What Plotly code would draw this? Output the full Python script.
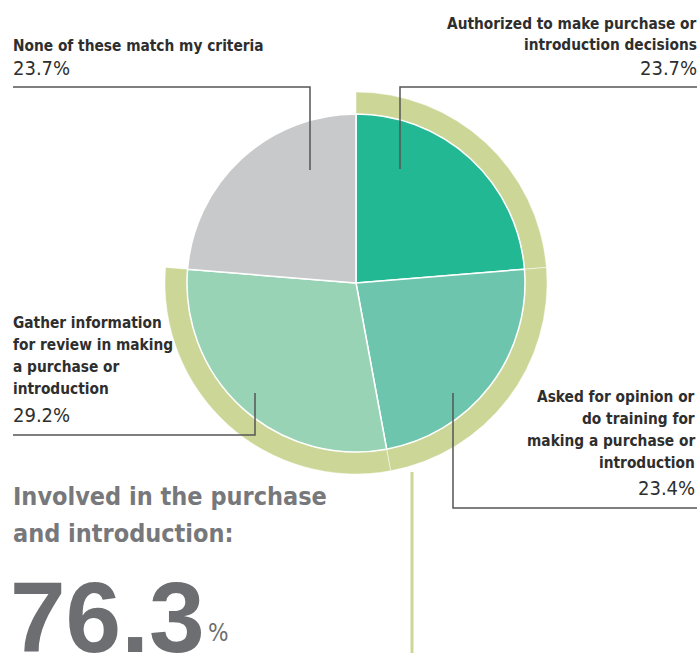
import plotly.graph_objects as go

# ---------------------------
# 1. Data
# ---------------------------
categories = [
    "Authorized to make purchase or introduction decisions",
    "Asked for opinion or do training for making a purchase or introduction",
    "Gather information for review in making a purchase or introduction",
    "None of these match my criteria",
]
label_lines = [
    ["Authorized to make purchase or", "introduction decisions"],
    ["Asked for opinion or", "do training for", "making a purchase or", "introduction"],
    ["Gather information", "for review in making", "a purchase or", "introduction"],
    ["None of these match my criteria"],
]
shares = [23.7, 23.4, 29.2, 23.7]
involved = [True, True, True, False]
headline = ["Involved in the purchase", "and introduction:"]

# ---------------------------
# 2. Style / geometry (pixels)
# ---------------------------
W, H = 700, 653
CX, CY = 356, 283
R_PIE, R_RING = 169, 191
slice_colors = ["#22b893", "#6cc5ac", "#98d3b6", "#c8c9cb"]
RING = "#ccd797"
INK = "#2e2e2e"
GREY = "#6d6e71"
FONT = "DejaVu Sans Condensed, DejaVu Sans, sans-serif"
BIG_FONT = "Liberation Sans, Arial, sans-serif"


def px(x, y):
    """Pixel position (top-left origin) -> paper coords."""
    return x / W, 1 - y / H


def domain(r):
    x0, y0 = px(CX - r, CY + r)
    x1, y1 = px(CX + r, CY - r)
    return dict(x=[x0, x1], y=[y0, y1])


total_involved = round(sum(s for s, i in zip(shares, involved) if i), 1)

fig = go.Figure()

# outer ring: only the "involved" slices are drawn
fig.add_trace(go.Pie(
    values=shares, labels=categories, hole=R_PIE / R_RING,
    domain=domain(R_RING), sort=False, direction="clockwise", rotation=0,
    marker=dict(colors=[RING if i else "rgba(0,0,0,0)" for i in involved],
                line=dict(color=["rgba(255,255,255,0.45)" if i else "rgba(0,0,0,0)" for i in involved], width=1)),
    textinfo="none", hoverinfo="skip", showlegend=False,
))

# main pie
fig.add_trace(go.Pie(
    values=shares, labels=categories,
    domain=domain(R_PIE), sort=False, direction="clockwise", rotation=0,
    marker=dict(colors=slice_colors, line=dict(color="white", width=1.5)),
    textinfo="none", hovertemplate="%{label}: %{value}%<extra></extra>",
    showlegend=False,
))

# ---------------------------
# 3. Leader lines
# ---------------------------
leaders = [
    [(697, 87), (400, 87), (400, 169)],
    [(697, 508), (453, 508), (453, 393)],
    [(13, 435), (255, 435), (255, 393)],
    [(13, 87), (310, 87), (310, 170)],
]
shapes = []
for pts in leaders:
    path = "M " + " L ".join("{:.5f},{:.5f}".format(*px(x, y)) for x, y in pts)
    shapes.append(dict(type="path", xref="paper", yref="paper", path=path,
                       line=dict(color="#555555", width=1.5)))
x0, y0 = px(412, CY + R_RING - 2)
x1, y1 = px(412, H)
shapes.append(dict(type="line", xref="paper", yref="paper", x0=x0, y0=y0, x1=x1, y1=y1,
                   line=dict(color=RING, width=3)))


# ---------------------------
# 4. Text
# ---------------------------
def text(s, x, baseline, size, anchor="left", color=INK, bold=False, family=FONT):
    xx, yy = px(x, baseline + 0.23 * size)
    if bold:
        s = "<b>" + s + "</b>"
    return dict(text=s, x=xx, y=yy, xref="paper", yref="paper", xanchor=anchor,
                yanchor="bottom", align=anchor, showarrow=False, borderpad=0, borderwidth=0,
                font=dict(family=family, size=size, color=color))


# (x, first baseline, line step, anchor, percent baseline) per category
label_pos = [
    (697, 29, 21, "right", 75),
    (695, 402, 22, "right", 495),
    (13, 328, 22, "left", 422),
    (13, 51, 22, "left", 75),
]

annotations = []
for lines, share, (x, b0, step, anchor, pb) in zip(label_lines, shares, label_pos):
    for k, line in enumerate(lines):
        annotations.append(text(line, x, b0 + k * step, 15.3, anchor=anchor, bold=True))
    annotations.append(text(f"{share}%", x, pb, 20, anchor=anchor))

for k, line in enumerate(headline):
    annotations.append(text(line, 13, 505 + k * 37, 25, color="#77787b", bold=True))
annotations.append(text(f"{total_involved}", 10, 650, 100, color=GREY, bold=True, family=BIG_FONT))
annotations.append(text("%", 208, 641, 24, color=GREY))

fig.update_layout(
    width=W, height=H, margin=dict(l=0, r=0, t=0, b=0),
    paper_bgcolor="white", plot_bgcolor="white",
    shapes=shapes, annotations=annotations,
)

fig.write_html("out.html", config={"displayModeBar": False},
               post_script="document.body.style.margin='0';")
